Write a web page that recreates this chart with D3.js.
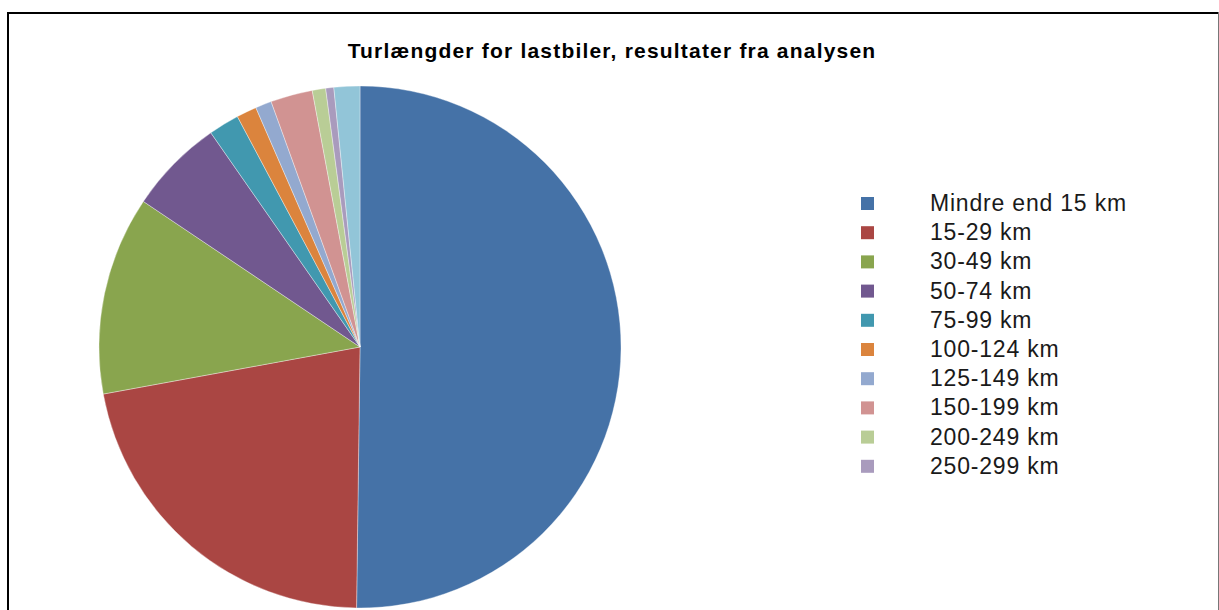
<!DOCTYPE html>
<html>
<head>
<meta charset="utf-8">
<title>Turlængder for lastbiler</title>
<script src="https://d3js.org/d3.v7.min.js"></script>
<style>
  body { margin: 0; background: #fff; }
  svg { display: block; }
</style>
</head>
<body>
<div id="chart"></div>
<script>
// data (share of trips, %)
var categories = ["Mindre end 15 km", "15-29 km", "30-49 km", "50-74 km", "75-99 km",
                  "100-124 km", "125-149 km", "150-199 km", "200-249 km", "250-299 km", "300+ km"];
var shares = [50.2, 21.9, 12.3, 5.9, 1.9, 1.25, 1.0, 2.6, 0.83, 0.5, 1.6];
var legendCount = 10; // last category is not shown in the legend of the original

var colors = ["#4572a7", "#aa4643", "#89a54e", "#71588f", "#4198af", "#db843d",
              "#93a9cf", "#d19392", "#b9cd96", "#a99bbd", "#92c5d8"];

var W = 1219, H = 610;

var svg = d3.select("#chart").append("svg")
    .attr("width", W)
    .attr("height", H);

// frame of the chart area
svg.append("line").attr("x1", 7).attr("x2", 1218).attr("y1", 13).attr("y2", 13)
    .attr("stroke", "#000").attr("stroke-width", 2);
svg.append("line").attr("x1", 8).attr("x2", 8).attr("y1", 12).attr("y2", H)
    .attr("stroke", "#000").attr("stroke-width", 2);
svg.append("line").attr("x1", 1218.5).attr("x2", 1218.5).attr("y1", 12).attr("y2", H)
    .attr("stroke", "#777").attr("stroke-width", 1);

// title
svg.append("text")
    .attr("x", 612)
    .attr("y", 58)
    .attr("text-anchor", "middle")
    .style("font-family", "'Liberation Sans', Arial, sans-serif")
    .style("font-weight", "bold")
    .style("font-size", "21px")
    .style("letter-spacing", "1.2px")
    .attr("fill", "#000")
    .text("Turlængder for lastbiler, resultater fra analysen");

// pie
var color = d3.scaleOrdinal().domain(categories).range(colors);
var pie = d3.pie().sort(null).value(function(d) { return d.v; });
var arc = d3.arc().innerRadius(0).outerRadius(261);

var rows = categories.map(function(c, i) { return { key: c, v: shares[i] }; });

var g = svg.append("g").attr("transform", "translate(360,347)");
g.selectAll("path")
    .data(pie(rows))
    .enter()
    .append("path")
      .attr("d", arc)
      .attr("fill", function(d) { return color(d.data.key); })
      .attr("stroke", "rgba(255,255,255,0.45)")
      .attr("stroke-width", 0.8);

// legend
var legend = svg.append("g").attr("transform", "translate(861,197)");
var item = legend.selectAll("g")
    .data(categories.slice(0, legendCount))
    .enter()
    .append("g")
      .attr("transform", function(d, i) { return "translate(0," + (i * 29.2) + ")"; });
item.append("rect")
    .attr("width", 13)
    .attr("height", 13)
    .attr("fill", function(d) { return color(d); });
item.append("text")
    .attr("x", 69)
    .attr("y", 14)
    .style("font-family", "'Liberation Sans', Arial, sans-serif")
    .style("font-size", "23px")
    .style("letter-spacing", "0.8px")
    .attr("fill", "#1a1a1a")
    .text(function(d) { return d; });
</script>
</body>
</html>
